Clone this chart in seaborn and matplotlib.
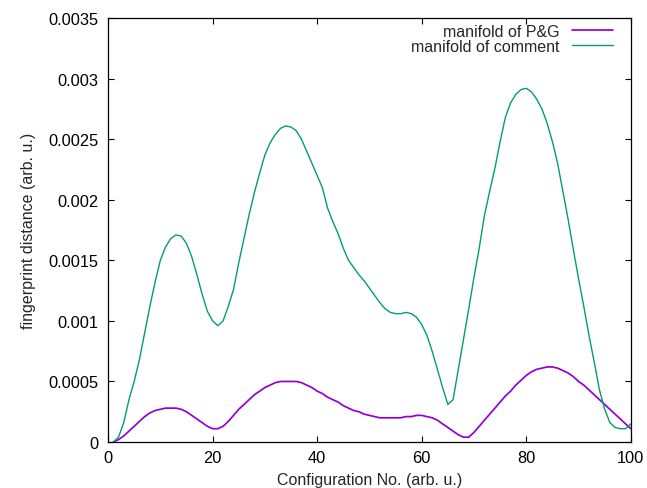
import numpy as np
import pandas as pd
import seaborn as sns
import matplotlib
matplotlib.use("Agg")
import matplotlib.pyplot as plt
from matplotlib.ticker import FuncFormatter, MultipleLocator

# configuration index
config = list(range(1, 101))

# manifold of P&G
pg = [0.0, 0.00002, 0.00005, 0.00009, 0.00013, 0.00017, 0.00021, 0.00024, 0.00026, 0.00027,
      0.00028, 0.00028, 0.00028, 0.00027, 0.00025, 0.00022, 0.00019, 0.00016, 0.00013, 0.00011,
      0.00011, 0.00013, 0.00017, 0.00022, 0.00027, 0.00031, 0.00035, 0.00039, 0.00042, 0.00045,
      0.00047, 0.00049, 0.0005, 0.0005, 0.0005, 0.0005, 0.00049, 0.00047, 0.00045, 0.00042,
      0.0004, 0.00037, 0.00035, 0.00033, 0.0003, 0.00028, 0.00026, 0.00025, 0.00023, 0.00022,
      0.00021, 0.0002, 0.0002, 0.0002, 0.0002, 0.0002, 0.00021, 0.00021, 0.00022, 0.00022,
      0.00021, 0.0002, 0.00018, 0.00015, 0.00012, 0.00009, 0.00006, 0.00004, 0.00004, 0.00008,
      0.00013, 0.00018, 0.00023, 0.00028, 0.00033, 0.00038, 0.00042, 0.00047, 0.00051, 0.00055,
      0.00058, 0.0006, 0.00061, 0.00062, 0.00062, 0.00061, 0.00059, 0.00057, 0.00054, 0.0005,
      0.00047, 0.00043, 0.00039, 0.00035, 0.00031, 0.00027, 0.00023, 0.00019, 0.00015, 0.00011]

# manifold of comment
comment = [0.0, 0.00004, 0.00016, 0.00035, 0.0005, 0.00068, 0.0009, 0.00112, 0.00132, 0.0015,
           0.00161, 0.00168, 0.00171, 0.0017, 0.00164, 0.00153, 0.00138, 0.00122, 0.00108, 0.001,
           0.00096, 0.001, 0.00112, 0.00126, 0.00148, 0.00168, 0.00188, 0.00206, 0.00222, 0.00237,
           0.00247, 0.00254, 0.00259, 0.00261, 0.0026, 0.00257, 0.0025, 0.0024, 0.0023, 0.0022,
           0.0021, 0.00193, 0.00182, 0.00172, 0.0016, 0.0015, 0.00144, 0.00138, 0.00133, 0.00127,
           0.00121, 0.00115, 0.0011, 0.00107, 0.00106, 0.00106, 0.00107, 0.00106, 0.00103, 0.00097,
           0.00088, 0.00075, 0.0006, 0.00045, 0.00031, 0.00035, 0.0006, 0.00085, 0.0011, 0.00136,
           0.0016, 0.00187, 0.00207, 0.00226, 0.00248, 0.00268, 0.0028, 0.00287, 0.00291, 0.00292,
           0.00289, 0.00283, 0.00275, 0.00263, 0.00248, 0.0023, 0.00207, 0.00184, 0.00159, 0.00135,
           0.00112, 0.00088, 0.00066, 0.00043, 0.00027, 0.00016, 0.00012, 0.00011, 0.00011, 0.00015]

sns.set_style("ticks")
plt.rcParams['font.family'] = ['Liberation Sans', 'DejaVu Sans']

fig = plt.figure(figsize=(6.47, 4.89), dpi=100)
ax = fig.add_axes([0.167, 0.094, 0.808, 0.867])

sns.lineplot(x=config, y=pg, color="#9400d3", linewidth=1.25, ax=ax, label="manifold of P&G")
sns.lineplot(x=config, y=comment, color="#009e73", linewidth=1.0, ax=ax, label="manifold of comment")

ax.set_xlim(0, 100)
ax.set_ylim(0, 0.0035)
ax.xaxis.set_major_locator(MultipleLocator(20))
ax.yaxis.set_major_locator(MultipleLocator(0.0005))
ax.yaxis.set_major_formatter(FuncFormatter(lambda v, p: "%g" % round(v, 6)))
ax.tick_params(direction="in", length=4, width=0.8, top=True, right=True,
               labelsize=11.8, colors="black")
ax.tick_params(axis="y", pad=7)
ax.tick_params(axis="x", pad=6)
for s in ax.spines.values():
    s.set_linewidth(0.9)
    s.set_color("black")

ax.set_xlabel("Configuration No. (arb. u.)", fontsize=11.5, labelpad=5)
ax.set_ylabel("fingerprint distance (arb. u.)", fontsize=11.5, labelpad=9)

ax.legend(loc="upper right", bbox_to_anchor=(0.966, 0.986), frameon=False, markerfirst=False,
          handlelength=2.6, fontsize=11.5, borderaxespad=0, borderpad=0, labelspacing=0.0,
          handletextpad=0.75)

fig.savefig("out.png", dpi=100)
